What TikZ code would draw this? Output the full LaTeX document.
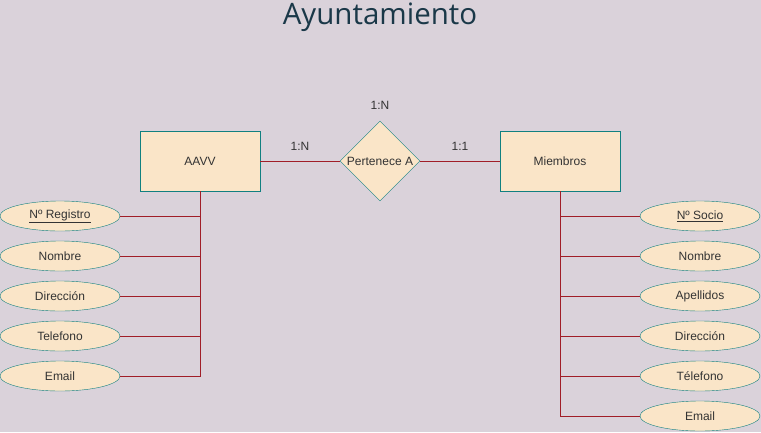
\documentclass[tikz,border=0pt]{standalone}
\usepackage{fontspec}
\setmainfont{Liberation Sans}
\newfontfamily\titlefont{Open Sans}
\usetikzlibrary{shapes.geometric}
\definecolor{bg}{RGB}{218,210,218}
\definecolor{boxfill}{RGB}{250,229,200}
\definecolor{boxline}{RGB}{16,128,128}
\definecolor{conn}{RGB}{160,30,40}
\definecolor{txt}{RGB}{51,51,51}
\definecolor{titlecol}{RGB}{26,56,72}
\newcommand{\ul}[1]{\underline{\smash{#1}}}
\tikzset{
  entity/.style={draw=boxline, fill=boxfill, minimum width=120pt, minimum height=60pt, inner sep=0pt, text=txt, font=\fontsize{12}{14}\selectfont},
  relation/.style={diamond, draw=boxline, fill=boxfill, minimum width=80pt, minimum height=80pt, inner sep=0pt, aspect=1, text=txt, font=\fontsize{12}{14}\selectfont},
  attr/.style={ellipse, draw=boxline, fill=boxfill, minimum width=120pt, minimum height=30pt, inner sep=0pt, text=txt, font=\fontsize{12}{14}\selectfont},
  card/.style={text=txt, font=\fontsize{12}{14}\selectfont, inner sep=0pt},
  link/.style={draw=conn, line width=0.9pt},
}
\begin{document}
\begin{tikzpicture}[x=1pt,y=-1pt]
\fill[bg] (0,0) rectangle (761,432);
\useasboundingbox (0,0) rectangle (761,432);
\node[text=titlecol, font=\titlefont\fontsize{29.5}{34}\selectfont, inner sep=0pt] (title) at (380,17) {Ayuntamiento};
\node[entity] (aavv) at (200,161) {AAVV};
\node[entity] (miem) at (560,161) {Miembros};
\node[relation] (pert) at (380,161) {Pertenece A};
\node[card] (c1) at (380,105) {1:N};
\node[card] (c2) at (300,146) {1:N};
\node[card] (c3) at (460,146) {1:1};
\draw[link] (aavv) -- (pert);
\draw[link] (pert) -- (miem);
% left attributes
\node[attr] (a1) at (60,216) {\underline{Nº Registro}};
\node[attr] (a2) at (60,256) {Nombre};
\node[attr] (a3) at (60,296) {Dirección};
\node[attr] (a4) at (60,336) {Telefono};
\node[attr] (a5) at (60,376) {Email};
\coordinate (lb) at (200,376);
\draw[link] (aavv.south) -- (lb) -- (a5.east);
\foreach \n in {a1,a2,a3,a4} \draw[link] (\n.east) -- (\n.east -| lb);
% right attributes
\node[attr] (b1) at (700,216) {\underline{Nº Socio}};
\node[attr] (b2) at (700,256) {Nombre};
\node[attr] (b3) at (700,296) {Apellidos};
\node[attr] (b4) at (700,336) {Dirección};
\node[attr] (b5) at (700,376) {Télefono};
\node[attr] (b6) at (700,416) {Email};
\coordinate (rb) at (560,416);
\draw[link] (miem.south) -- (rb) -- (b6.west);
\foreach \n in {b1,b2,b3,b4,b5} \draw[link] (\n.west) -- (\n.west -| rb);
\end{tikzpicture}
\end{document}
